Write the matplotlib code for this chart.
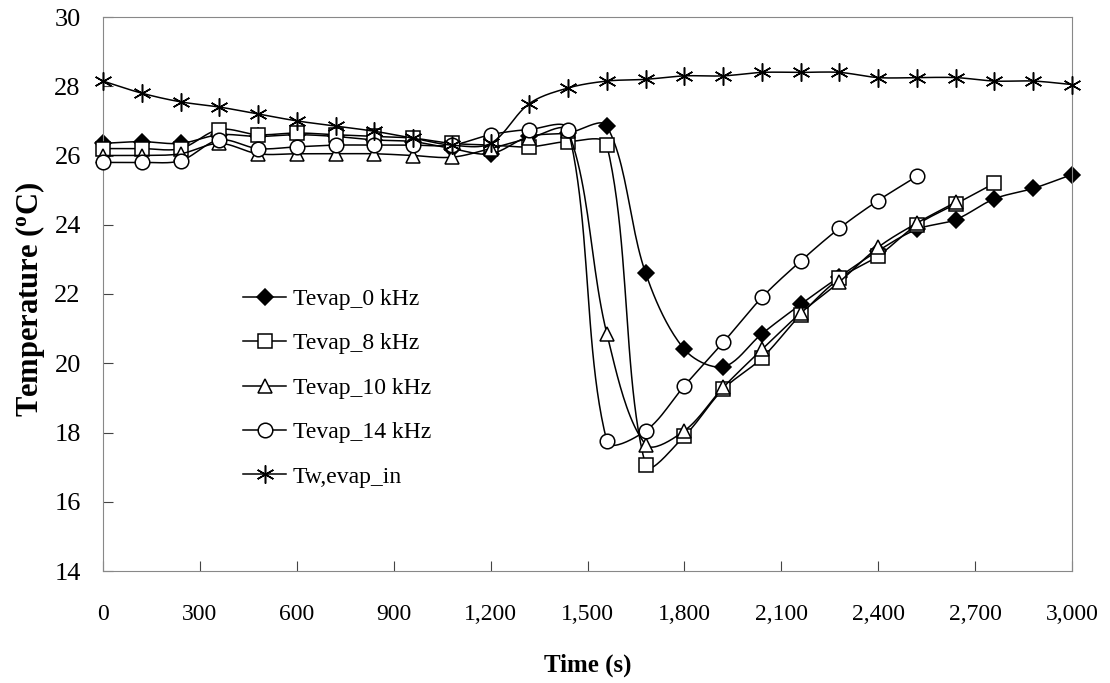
import numpy as np
import matplotlib
matplotlib.use("Agg")
import matplotlib.pyplot as plt
from matplotlib.lines import Line2D
from matplotlib.ticker import FuncFormatter

# ---------------- data ----------------
time_s = [0, 120, 240, 360, 480, 600, 720, 840, 960, 1080, 1200, 1320, 1440,
          1560, 1680, 1800, 1920, 2040, 2160, 2280, 2400, 2520, 2640, 2760,
          2880, 3000]

tevap_0khz = [26.35, 26.4, 26.35, 26.6, 26.55, 26.6, 26.55, 26.45, 26.4, 26.2,
              26.05, 26.55, 26.65, 26.85, 22.6, 20.4, 19.9, 20.85, 21.7, 22.5,
              23.25, 23.87, 24.15, 24.75, 25.05, 25.45]
tevap_8khz = [26.2, 26.2, 26.2, 26.75, 26.6, 26.65, 26.6, 26.55, 26.5, 26.35,
              26.3, 26.25, 26.4, 26.3, 17.05, 17.9, 19.25, 20.15, 21.4, 22.45,
              23.1, 24.0, 24.6, 25.2]
tevap_10khz = [26.0, 26.0, 26.05, 26.35, 26.05, 26.05, 26.05, 26.05, 26.0,
               25.95, 26.2, 26.5, 26.7, 20.85, 17.65, 18.05, 19.3, 20.4, 21.45,
               22.35, 23.35, 24.05, 24.65]
tevap_14khz = [25.8, 25.8, 25.85, 26.45, 26.2, 26.25, 26.3, 26.3, 26.3, 26.3,
               26.6, 26.75, 26.75, 17.75, 18.05, 19.35, 20.6, 21.9, 22.95, 23.9,
               24.7, 25.4]
tw_evap_in = [28.15, 27.8, 27.55, 27.4, 27.2, 27.0, 26.85, 26.7, 26.5, 26.3,
              26.35, 27.5, 27.95, 28.15, 28.2, 28.3, 28.3, 28.4, 28.4, 28.4,
              28.25, 28.25, 28.25, 28.15, 28.15, 28.05]

labels = ["Tevap_0 kHz", "Tevap_8 kHz", "Tevap_10 kHz", "Tevap_14 kHz",
          "Tw,evap_in"]
x_ticks = [0, 300, 600, 900, 1200, 1500, 1800, 2100, 2400, 2700, 3000]
y_ticks = [14, 16, 18, 20, 22, 24, 26, 28, 30]

# ---------------- style ----------------
plt.rcParams['font.family'] = ['Liberation Serif', 'DejaVu Serif']
plt.rcParams['mathtext.fontset'] = 'custom'
plt.rcParams['mathtext.rm'] = 'Liberation Serif'
plt.rcParams['mathtext.bf'] = 'Liberation Serif:bold'
plt.rcParams['mathtext.it'] = 'Liberation Serif:italic'

fig = plt.figure(figsize=(11.1, 6.83), dpi=100)
ax = fig.add_axes([103 / 1110, 1 - 571 / 683, (1072 - 103) / 1110, (571 - 17) / 683])
ax.set_xlim(0, 3000)
ax.set_ylim(14, 30)


def smooth(x, y, n=24):
    """Smoothed line (cubic Bezier, chord-weighted tangents) in display space."""
    P = ax.transData.transform(np.column_stack([x, y]).astype(float))
    m = len(P)
    t = np.linspace(0, 1, n)[:, None]
    segs = []
    for i in range(m - 1):
        p0 = P[max(i - 1, 0)]
        p1 = P[i]
        p2 = P[i + 1]
        p3 = P[min(i + 2, m - 1)]
        d01 = np.hypot(*(p1 - p0))
        d12 = np.hypot(*(p2 - p1))
        d23 = np.hypot(*(p3 - p2))
        s1 = d12 / (d01 + d12) if d01 + d12 > 0 else 0.0
        s2 = d12 / (d12 + d23) if d12 + d23 > 0 else 0.0
        c1 = p1 + (p2 - p0) * s1 / 3.0
        c2 = p2 - (p3 - p1) * s2 / 3.0
        seg = ((1 - t) ** 3) * p1 + 3 * ((1 - t) ** 2) * t * c1 \
            + 3 * (1 - t) * t ** 2 * c2 + t ** 3 * p2
        segs.append(seg)
    S = ax.transData.inverted().transform(np.vstack(segs))
    return S[:, 0], S[:, 1]


series = [tevap_0khz, tevap_8khz, tevap_10khz, tevap_14khz, tw_evap_in]
markers = ['D', 's', '^', 'o', (6, 2, 0)]
faces = ['black', 'white', 'white', 'white', 'black']
msizes = [8, 10, 10.5, 10.5, 13]

handles = []
for k, (vals, mk, fc, ms, lab) in enumerate(zip(series, markers, faces, msizes, labels)):
    xs = time_s[:len(vals)]
    sx, sy = smooth(xs, vals)
    ax.plot(sx, sy, color='black', lw=1.1, zorder=2 + k, clip_on=False)
    ax.plot(xs, vals, linestyle='none', marker=mk, markersize=ms,
            markerfacecolor=fc, markeredgecolor='black', markeredgewidth=1.1,
            zorder=2.5 + k, clip_on=False)
    handles.append(Line2D([], [], color='black', lw=1.1, marker=mk,
                          markersize=ms, markerfacecolor=fc,
                          markeredgecolor='black', markeredgewidth=1.1,
                          label=lab))

ax.set_xticks(x_ticks)
ax.set_yticks(y_ticks)
ax.xaxis.set_major_formatter(FuncFormatter(lambda v, p: f"{int(v):,}"))
ax.tick_params(axis='both', direction='in', length=7, width=0.8,
               color='#444444')
ax.tick_params(axis='x', pad=24, labelsize=17)
ax.tick_params(axis='y', pad=16, labelsize=19)
for sp in ax.spines.values():
    sp.set_color('#888888')
    sp.set_linewidth(0.8)

ax.set_xlabel("Time (s)", fontsize=18, fontweight='bold')
ax.xaxis.set_label_coords(0.5, (571 - 665) / 554)
ax.xaxis.label.set_va('center')
ax.set_ylabel(r"Temperature ($^{\mathbf{o}}$C)", fontsize=22,
              fontweight='bold')
ax.yaxis.set_label_coords((30 - 103) / 969, 0.49)
ax.yaxis.label.set_va('center')

leg = ax.legend(handles=handles, loc='upper left',
                bbox_to_anchor=(0.135, 0.527), frameon=False, fontsize=17,
                handlelength=1.8, handletextpad=0.3, labelspacing=0.97,
                borderaxespad=0)

fig.savefig("out.png", dpi=100)
